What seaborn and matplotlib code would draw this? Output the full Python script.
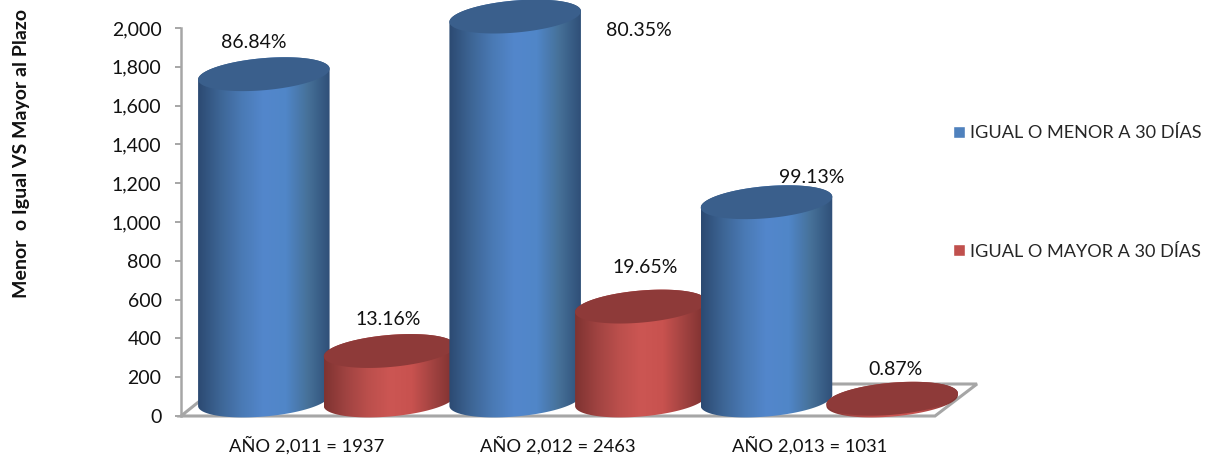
import numpy as np
import pandas as pd
import matplotlib
matplotlib.use('Agg')
import matplotlib.pyplot as plt
from matplotlib.colors import LinearSegmentedColormap
from matplotlib.patches import Polygon
import seaborn as sns

# values
years = ['AÑO 2,011 = 1937', 'AÑO 2,012 = 2463', 'AÑO 2,013 = 1031']
menor = [1682, 1979, 1022]
mayor = [255, 484, 9]
menor_pct = ['86.84%', '80.35%', '99.13%']
mayor_pct = ['13.16%', '19.65%', '0.87%']
series_names = ['IGUAL O MENOR A 30 DÍAS', 'IGUAL O MAYOR A 30 DÍAS']
y_ticks = [0, 200, 400, 600, 800, 1000, 1200, 1400, 1600, 1800, 2000]

sns.set_style('white')
plt.rcParams['font.family'] = ['Lato', 'DejaVu Sans']

W, H = 1207, 455
fig = plt.figure(figsize=(W / 100, H / 100), dpi=100)
ax = fig.add_axes([181 / W, (H - 416) / H, 754 / W, 388 / H])

data = pd.DataFrame({
    'year': years * 2,
    'value': menor + mayor,
    'serie': [series_names[0]] * 3 + [series_names[1]] * 3,
})
sns.barplot(data=data, x='year', y='value', hue='serie', width=1, ax=ax,
            palette=['#4f81bd', '#c0504d'], saturation=1, errorbar=None)
ax.set_xlim(-0.5, 2.5)
ax.set_ylim(0, 2000)
ax.set_yticks(y_ticks)
ax.set_yticklabels([f'{v:,}' for v in y_ticks])
ax.set_xlabel('')
ax.set_ylabel('')

grey = '#a6a6a6'
for name, spine in ax.spines.items():
    spine.set_visible(name == 'left')
    spine.set_color(grey)
    spine.set_linewidth(1.8)
ax.tick_params(axis='y', left=True, length=4, width=1.4, color=grey, pad=10,
               labelsize=14, labelcolor='#111111')
ax.tick_params(axis='x', bottom=False, pad=11, labelsize=13.2, labelcolor='#111111')

# floor of the 3d box
floor = Polygon([(0, 0), (1, 0), (1 + 42 / 754, 32 / 388), (40 / 754, 32 / 388)],
                closed=True, fill=False, edgecolor=grey, linewidth=2.2,
                transform=ax.transAxes, clip_on=False, zorder=1)
ax.add_patch(floor)

blue_cmap = LinearSegmentedColormap.from_list(
    'blue3d', ['#2c4a72', '#3d6595', '#4a7ab5', '#5387cc', '#5086c8', '#467199', '#2f4f78'])
red_cmap = LinearSegmentedColormap.from_list(
    'red3d', ['#7f3331', '#a04341', '#bb4f4c', '#cc5653', '#c8524f', '#a04240', '#7b302f'])
top_colors = ['#3a5f8c', '#8e3a39']

half_w = 66
half_h = 16
tilt = np.radians(5)
x_shift = 20
base_shift = 80  # cylinders stand back from the front edge


def ellipse_pts(cx, cy, t):
    px = cx + half_w * np.cos(t) * np.cos(tilt) - half_h * np.sin(t) * np.sin(tilt)
    py = cy + half_w * np.cos(t) * np.sin(tilt) + half_h * np.sin(t) * np.cos(tilt)
    return np.column_stack([px, py])


def cylinder(bar, cmap, top_color, z):
    to_px = ax.transData
    to_data = ax.transData.inverted()
    x_mid = bar.get_x() + bar.get_width() / 2
    cx, y0 = to_px.transform((x_mid, base_shift))
    _, y1 = to_px.transform((x_mid, base_shift + bar.get_height()))
    cx += x_shift
    lower = ellipse_pts(cx, y0, np.linspace(np.pi, 2 * np.pi, 80))
    upper = ellipse_pts(cx, y1, np.linspace(0, np.pi, 80))
    body = Polygon(to_data.transform(np.vstack([lower, upper])), closed=True,
                   transform=ax.transData, facecolor='none', edgecolor='none')
    ax.add_patch(body)
    (xa, ya), (xb, yb) = to_data.transform([(cx - half_w, y0 - 40), (cx + half_w, y1 + 40)])
    img = ax.imshow(np.linspace(0, 1, 256)[None, :], cmap=cmap, aspect='auto',
                    extent=(xa, xb, ya, yb), zorder=z, interpolation='bilinear')
    img.set_clip_path(body)
    img.set_clip_box(fig.bbox)  # the tallest cylinder pokes out above the axes
    cap = ellipse_pts(cx, y1, np.linspace(0, 2 * np.pi, 160))
    ax.add_patch(Polygon(to_data.transform(cap), closed=True, facecolor=top_color,
                         edgecolor='none', zorder=z + 0.5, clip_on=False))
    return cx, y1


label_offsets = {
    (0, 0): (-10, 32), (1, 0): (-1, 32),
    (0, 1): (124, -14), (1, 1): (4, 39),
    (0, 2): (45, 25), (1, 2): (3, 29),
}
labels = [menor_pct, mayor_pct]
cmaps = [blue_cmap, red_cmap]

for i in range(3):
    for s in range(2):
        bar = ax.containers[s][i]
        z = 3 + i * 2 + s
        cx, y1 = cylinder(bar, cmaps[s], top_colors[s], z)
        dx, dy = label_offsets[(s, i)]
        ax.annotate(labels[s][i], xy=(cx, y1), xycoords='figure pixels',
                    xytext=(dx * 0.72, dy * 0.72), textcoords='offset points',
                    ha='center', va='center', fontsize=14, color='#111111',
                    annotation_clip=False, zorder=20)
        bar.set_visible(False)

ax.set_xlim(-0.5, 2.5)
ax.set_ylim(0, 2000)

sns.move_legend(ax, 'upper left', bbox_to_anchor=(953 / W, (H - 125) / H),
                bbox_transform=fig.transFigure, title=None, frameon=False,
                fontsize=13.1, labelspacing=5.65, handlelength=0.65, handleheight=0.65,
                handletextpad=0.27, borderpad=0, borderaxespad=0)

fig.text(22 / W, (H - 154) / H, 'Menor  o Igual VS Mayor al Plazo', rotation=90,
         ha='center', va='center', fontsize=14, fontweight='bold', color='#111111')

fig.savefig('out.png', dpi=100)
